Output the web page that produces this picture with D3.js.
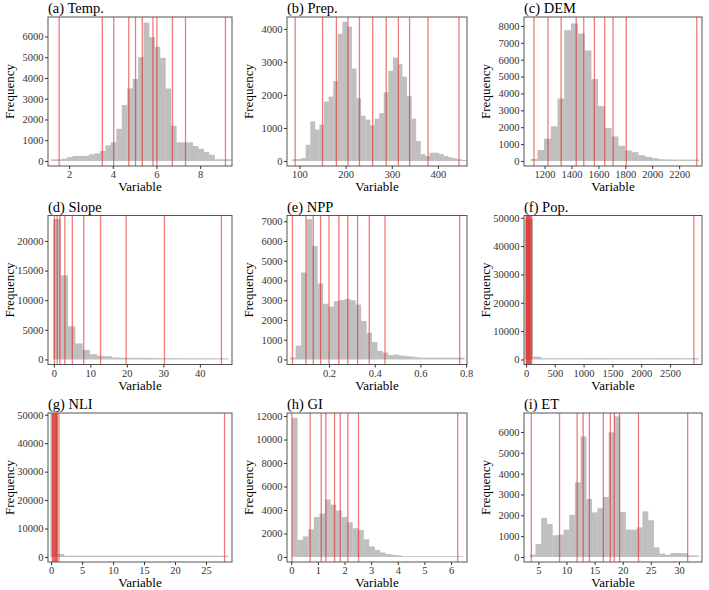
<!DOCTYPE html>
<html>
<head>
<meta charset="utf-8">
<script src="https://cdn.jsdelivr.net/npm/d3@7"></script>
<style>
  body { margin: 0; background: #fff; }
</style>
</head>
<body>
<div id="chart"></div>
<script>
var width = 709,
    height = 590;
var serif = "'Liberation Serif'";

// panel titles
var titles = ["(a) Temp.", "(b) Prep.", "(c) DEM", "(d) Slope", "(e) NPP", "(f) Pop.", "(g) NLI", "(h) GI", "(i) ET"];

// histogram bins: first edge, bin width, counts
var binStart = [1.16, 83.6, 1096, -0.2, 0.030, -20, -0.1, 0.02, 3.5];
var binWidth = [0.25, 9.95, 50, 2, 0.0238, 137, 1.1, 0.207, 1.0];

var tempCounts = [80,80,110,190,240,240,250,320,370,480,750,900,1550,2700,3500,3950,5000,6670,5970,5500,4970,3490,1700,900,900,900,720,590,430,300,80,80,80];
var prepCounts = [50,60,90,490,1200,950,1100,1800,1950,2420,3850,4220,4070,2800,1900,1370,1250,1080,1280,1450,2080,2730,3130,2930,2550,1960,1280,600,210,150,250,250,210,150,110,80,50,30];
var demCounts = [120,650,1320,2050,3700,7750,8150,7550,6550,4850,3250,1950,1450,900,620,520,340,240,160,100,90,80,80,80,80];
var slopeCounts = [23700,14200,5600,2700,1600,900,600,560,330,300,280,270,260,250,240,230,220,210,200,200,200,200,200,200];
var nppCounts = [100,700,4400,7100,5750,3850,2820,2680,2950,3000,3060,3000,2780,1950,1350,880,430,350,220,250,200,170,140,110,90,90,90,90,90,90,90,90];
var popCounts = [49600,1000,450,450,450,450,450,450,450,450,450,450,450,450,450,450,450,450,450,450,450,450];
var nliCounts = [50300,1050,450,450,450,450,450,450,450,450,450,450,450,450,450,450,450,450,450,450,450,450,450,450,450,450];
var giCounts = [11850,1450,1750,2350,3400,3700,4900,4450,3950,3400,2950,2450,2300,1500,900,600,380,250,180,130,70,70,70,70,70,70,70,70,70,70,70];
var etCounts = [110,620,1870,1580,1040,1070,1310,2020,3580,5790,2780,2140,2340,2880,5980,6750,2160,1310,1310,1420,2190,1760,460,160,110,190,190,180,80,70];

// class break values (red lines)
var tempBreaks = [1.54, 3.52, 4.04, 4.73, 5.04, 5.35, 5.84, 6.02, 6.73, 7.33, 9.16];
var prepBreaks = [90.7, 150, 180, 205, 230, 258.6, 287.9, 314.3, 338.6, 378.6, 445.7];
var demBreaks = [1121, 1225, 1323, 1435, 1491, 1570, 1647, 1709, 1807, 2331];
var slopeBreaks = [0.18, 0.92, 1.66, 3.03, 5.06, 8.18, 12.8, 19.8, 30.3, 45.9];
var nppBreaks = [0.040, 0.099, 0.131, 0.163, 0.2, 0.243, 0.282, 0.325, 0.376, 0.445, 0.772];
var popBreaks = [4, 14, 25, 36, 47, 58, 70, 83, 97, 2915];
var nliBreaks = [0.2, 0.35, 0.5, 0.62, 0.75, 0.88, 1.0, 1.27, 28.0];
var giBreaks = [0.025, 0.71, 1.125, 1.3, 1.625, 1.84, 2.125, 2.525, 6.25];
var etBreaks = [3.76, 8.77, 11.9, 12.97, 14.08, 16.56, 17.8, 18.5, 19.44, 22.8, 31.55];

// x axis limits and ticks
var xLimits = [[1.03, 9.46], [73, 463], [1047, 2370], [-1.6, 48.8], [0.016, 0.804], [-35, 3056], [-0.5, 29.2], [-0.16, 6.6], [2.45, 34.1]];
var xTicks = [[2, 4, 6, 8], [100, 200, 300, 400], [1200, 1400, 1600, 1800, 2000, 2200], [0, 10, 20, 30, 40],
              [0.2, 0.4, 0.6, 0.8], [0, 500, 1000, 1500, 2000, 2500], [0, 5, 10, 15, 20, 25], [0, 1, 2, 3, 4, 5, 6], [5, 10, 15, 20, 25, 30]];

// y axis tops and ticks
var yTops = [6940, 4360, 8530, 24300, 7290, 50800, 50600, 12260, 6910];
var yTicks = [d3.range(0, 6001, 1000), d3.range(0, 4001, 1000), d3.range(0, 8001, 1000), d3.range(0, 20001, 5000),
              d3.range(0, 7001, 1000), d3.range(0, 50001, 10000), d3.range(0, 50001, 10000), d3.range(0, 12001, 2000), d3.range(0, 6001, 1000)];

var counts = [tempCounts, prepCounts, demCounts, slopeCounts, nppCounts, popCounts, nliCounts, giCounts, etCounts];
var breaks = [tempBreaks, prepBreaks, demBreaks, slopeBreaks, nppBreaks, popBreaks, nliBreaks, giBreaks, etBreaks];

// layout of the 3x3 grid
var colLeft = [48, 287, 524],
    colRight = [232, 467, 702],
    rowTop = [17, 215.5, 413],
    plotH = 149;

var svg = d3.select("#chart")
      .append("svg")
      .attr("width", width)
      .attr("height", height);

titles.forEach(function(title, i){
  var col = i % 3, row = Math.floor(i / 3);
  var left = colLeft[col], right = colRight[col], top = rowTop[row], bottom = top + plotH;

  var x = d3.scaleLinear().domain(xLimits[i]).range([left, right]);
  var y = d3.scaleLinear().domain([-0.035 * yTops[i], yTops[i]]).range([bottom, top]);

  var g = svg.append("g");

  g.append("clipPath")
    .attr("id", "clip" + i)
    .append("rect")
    .attr("x", left).attr("y", top)
    .attr("width", right - left).attr("height", plotH);

  var bars = counts[i].map(function(c, k){
    return {x0: binStart[i] + k * binWidth[i], x1: binStart[i] + (k + 1) * binWidth[i], n: c};
  });

  var plot = g.append("g").attr("clip-path", "url(#clip" + i + ")");

  plot.selectAll("rect.bar")
    .data(bars)
    .enter().append("rect")
    .attr("class", "bar")
    .attr("x", function(d){ return x(d.x0); })
    .attr("width", function(d){ return x(d.x1) - x(d.x0) + 0.3; })
    .attr("y", function(d){ return y(d.n); })
    .attr("height", function(d){ return y(0) - y(d.n); })
    .attr("fill", "#bfbfbf");

  plot.selectAll("line.brk")
    .data(breaks[i])
    .enter().append("line")
    .attr("class", "brk")
    .attr("x1", function(d){ return x(d); })
    .attr("x2", function(d){ return x(d); })
    .attr("y1", top)
    .attr("y2", bottom)
    .attr("stroke", "#e3241f")
    .attr("stroke-opacity", 0.6)
    .attr("stroke-width", 1.3);

  // frame
  g.append("rect")
    .attr("x", left).attr("y", top)
    .attr("width", right - left).attr("height", plotH)
    .attr("fill", "none")
    .attr("stroke", "#555")
    .attr("stroke-width", 1);

  var xAxis = g.append("g")
    .attr("transform", "translate(0," + bottom + ")")
    .call(d3.axisBottom(x).tickValues(xTicks[i]).tickSize(3).tickPadding(2).tickFormat(d3.format("")));
  var yAxis = g.append("g")
    .attr("transform", "translate(" + left + ",0)")
    .call(d3.axisLeft(y).tickValues(yTicks[i]).tickSize(3).tickPadding(1.5).tickFormat(d3.format("d")));

  [xAxis, yAxis].forEach(function(a){
    a.select(".domain").remove();
    a.selectAll(".tick line").attr("stroke", "#333");
    a.selectAll(".tick text")
      .attr("fill", "#333")
      .style("font-family", serif)
      .style("font-size", "10.5px");
  });

  g.append("text")
    .attr("x", left)
    .attr("y", top - 4)
    .style("font-family", serif)
    .style("font-size", "14.5px")
    .style("fill", "#000")
    .text(title);

  g.append("text")
    .attr("x", (left + right) / 2)
    .attr("y", bottom + 25)
    .attr("text-anchor", "middle")
    .style("font-family", serif)
    .style("font-size", "13px")
    .text("Variable");

  g.append("text")
    .attr("transform", "translate(" + (left - 34) + "," + (top + plotH / 2) + ") rotate(-90)")
    .attr("text-anchor", "middle")
    .style("font-family", serif)
    .style("font-size", "13px")
    .text("Frequency");
});
</script>
</body>
</html>
